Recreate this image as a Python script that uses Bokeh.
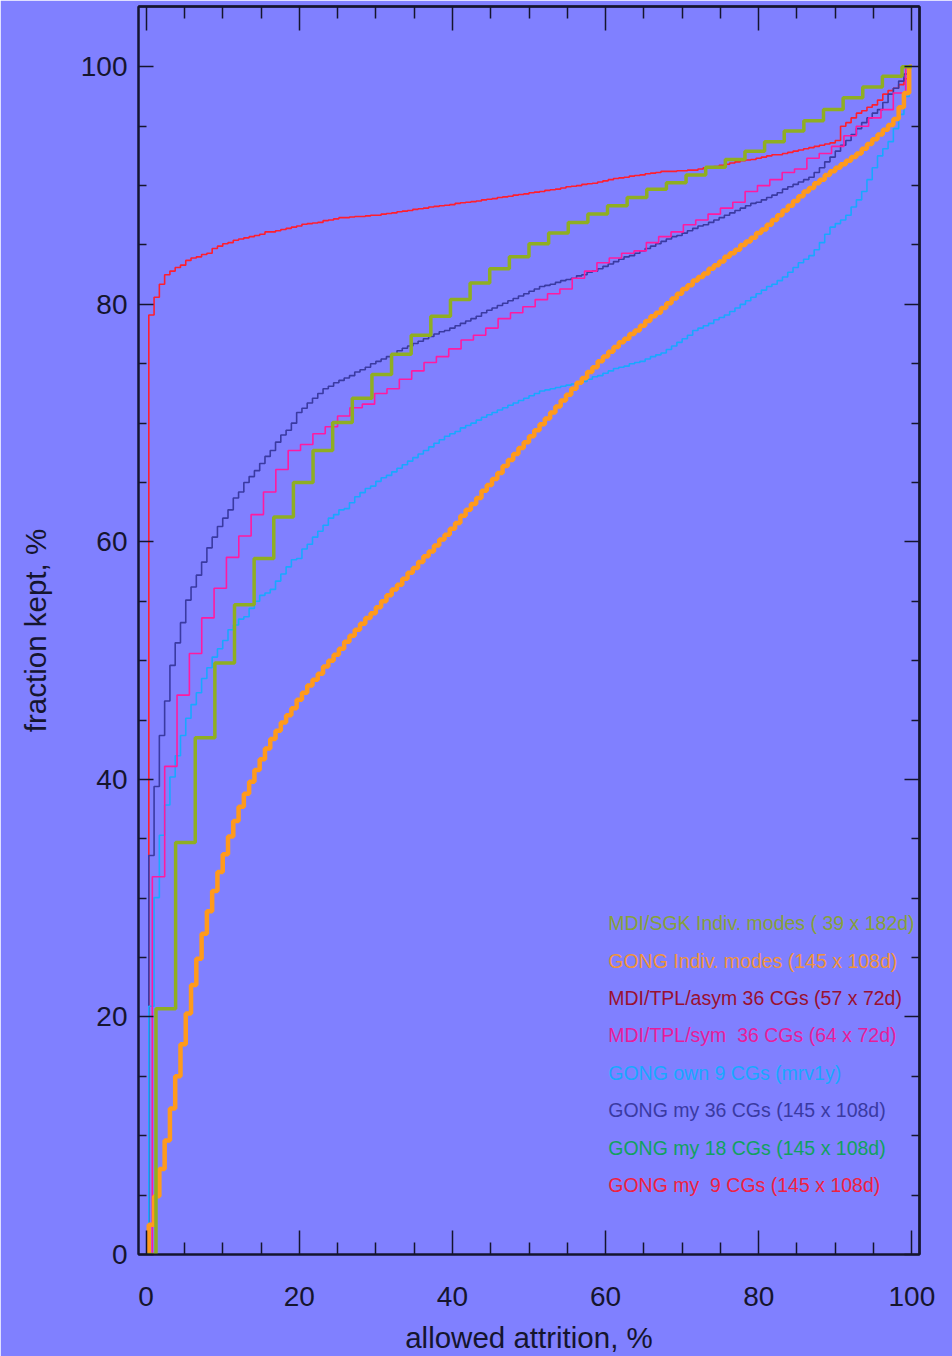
import numpy as np
from bokeh.plotting import figure
from bokeh.models import LinearAxis, FixedTicker, ColumnDataSource, Range1d
from bokeh.core.properties import value
from bokeh.embed import file_html
from bokeh.resources import INLINE

# ---------------- data ----------------
# number of steps for each cumulative curve
n_my9 = 145
n_my36 = 145
n_own9 = 145
n_sym = 62
n_indiv = 145
n_sgk = 39

gong_my9 = [0, 79.1, 80.6, 81.7, 82.5, 82.8, 83.1, 83.3, 83.7, 83.9, 84.0, 84.2, 84.3, 84.7, 84.9, 85.1,
            85.2, 85.4, 85.5, 85.6, 85.7, 85.8, 85.9, 86.1, 86.1, 86.2, 86.3, 86.4, 86.5, 86.6, 86.75,
            86.8, 86.85, 86.9, 87.05, 87.1, 87.2, 87.3, 87.3, 87.35, 87.4, 87.4, 87.45, 87.5, 87.5,
            87.6, 87.65, 87.7, 87.8, 87.85, 87.9, 88.0, 88.05, 88.1, 88.2,
            88.25, 88.3, 88.35, 88.4, 88.5, 88.55, 88.6,
            88.65, 88.7, 88.8, 88.85, 88.9, 89.0, 89.05, 89.1, 89.2, 89.25, 89.3, 89.4,
            89.45, 89.5, 89.6, 89.65, 89.7, 89.8, 89.9,
            89.95, 90.0, 90.1, 90.15, 90.2, 90.3, 90.4,
            90.5, 90.6, 90.65, 90.7, 90.8,
            90.85, 90.9, 91.0, 91.05, 91.1, 91.2,
            91.2, 91.2, 91.25, 91.25, 91.3, 91.3,
            91.4, 91.5, 91.55, 91.6, 91.7, 91.8, 91.9,
            92.0, 92.1, 92.15, 92.2, 92.3, 92.4,
            92.5, 92.6, 92.6, 92.7, 92.8, 92.9,
            93.0, 93.1, 93.2, 93.3, 93.4, 93.5, 93.6, 93.8, 95.0, 95.3, 95.7, 96.1, 96.3, 96.6,
            96.8, 97.2, 97.7, 98.0, 98.2, 98.5, 99.0, 100.0]

gong_my36 = [0, 33.6, 39.4, 43.7, 46.6, 49.6, 51.5, 53.2, 55.1, 56.2, 57.2, 58.3, 59.5, 60.4, 61.3, 62.0,
             62.7, 63.7, 64.2, 65.0, 65.5, 66.0, 66.6, 67.2, 67.7, 68.4, 69.0, 69.4, 70.0, 70.9, 71.25,
             71.7, 72.1, 72.5, 72.9, 73.1, 73.4, 73.6,
             73.8, 74.0, 74.3, 74.5, 74.7, 75.0, 75.2,
             75.4, 75.6, 75.8, 76.1, 76.3, 76.5,
             76.7, 76.9, 77.1, 77.3, 77.5,
             77.7, 77.8, 78.0, 78.2,
             78.4, 78.6, 78.8, 79.0,
             79.3, 79.5, 79.7, 79.9, 80.1, 80.3,
             80.5, 80.7, 80.9, 81.1, 81.3, 81.5,
             81.6, 81.7, 81.85, 82.0, 82.1, 82.2, 82.4, 82.5, 82.7, 82.8,
             83.0, 83.2, 83.4, 83.6, 83.8, 84.0, 84.1, 84.3,
             84.5, 84.7, 84.9, 85.1, 85.3,
             85.5, 85.7, 85.8, 86.0, 86.2, 86.4,
             86.6, 86.7, 86.9, 87.1, 87.3, 87.5,
             87.7, 87.9, 88.1, 88.3, 88.5, 88.6, 88.8,
             89.0, 89.2, 89.4, 89.7, 89.9, 90.1, 90.3, 90.5,
             90.7, 91.1, 91.5, 92.0,
             92.4, 92.9, 93.4, 93.8,
             94.3, 94.8, 95.3,
             95.7, 96.1, 96.4,
             97.0, 97.7, 98.2, 98.8, 99.4, 100.0]

gong_own9 = [0, 20.9, 30.05, 35.3, 37.85, 40.2, 42.0, 43.7, 45.15, 46.3, 47.3, 48.5, 49.4, 50.3, 51.0,
             51.7, 52.6, 53.0, 53.5, 53.7, 54.4, 55.0, 55.5, 55.7, 56.0, 56.7, 57.3, 57.9, 58.5, 58.6,
             59.4, 59.8, 60.4, 60.9, 61.4, 62.0, 62.3, 62.7, 62.8, 63.3, 63.8, 64.15, 64.5, 64.7, 65.1,
             65.4, 65.6,
             65.9, 66.2, 66.5, 66.8,
             67.1, 67.4, 67.7, 68.0, 68.3, 68.6, 68.9,
             69.1, 69.3, 69.6, 69.8, 70.0, 70.25,
             70.5, 70.7, 70.9, 71.1, 71.3, 71.5,
             71.7, 71.9, 72.1, 72.3, 72.5, 72.7,
             72.8, 72.9, 73.0, 73.1, 73.2, 73.3, 73.4,
             73.5, 73.7, 73.9, 74.0, 74.2, 74.4,
             74.6, 74.7, 74.8, 75.0, 75.1,
             75.2, 75.4, 75.6, 75.75, 75.9,
             76.2, 76.5, 76.8, 77.1, 77.4, 77.8,
             78.0, 78.2, 78.4, 78.7, 78.9, 79.1,
             79.4, 79.7, 80.0, 80.3, 80.6, 80.9, 81.2,
             81.5, 81.7, 82.0, 82.3, 82.7, 83.1, 83.5, 83.8, 84.1, 84.6, 85.2, 85.9, 86.5, 86.8,
             87.1, 87.5, 88.2, 88.8, 89.5, 90.5, 91.5, 92.5, 93.1, 93.7, 94.8, 96.0, 97.5, 100.0]

mdi_sym = [0, 31.8, 41.1, 47.1, 50.6, 53.6, 56.1, 58.7, 60.5, 62.3, 64.2, 66.1, 67.7, 68.2, 69.1, 69.7,
           70.6, 71.3, 71.6, 72.5,
           72.9, 73.7, 74.4, 75.1, 75.6, 76.25, 77.0, 77.4, 78.0, 78.8, 79.3, 79.8, 80.4, 80.9, 81.3,
           82.2, 82.8, 83.5, 83.9, 84.3, 84.5,
           85.2, 85.7, 86.1, 86.7, 87.1, 87.6, 88.1, 88.6, 89.5, 90.0, 90.5, 91.1, 91.4, 92.3, 92.7,
           93.3, 94.2, 95.0, 95.7, 96.4, 97.8, 100.0]

gong_indiv = [0, 2.5, 4.9, 7.2, 9.6, 12.3, 15.0, 17.7, 20.3, 22.7, 24.9, 27.0, 28.9, 30.6, 32.2, 33.7,
              35.2, 36.5, 37.7, 38.8, 39.8, 40.8,
              41.7, 42.6, 43.4, 44.1, 44.8, 45.4, 46.0, 46.7, 47.3, 47.9, 48.4, 48.9, 49.5, 50.0, 50.5,
              51.0, 51.6,
              52.1, 52.6, 53.1, 53.6, 54.0, 54.5,
              55.0, 55.5, 56.0, 56.4, 56.9, 57.4, 57.8, 58.3, 58.8, 59.2, 59.7, 60.2, 60.6, 61.1,
              61.6, 62.2, 62.7, 63.2, 63.7, 64.3, 64.8, 65.3, 65.8, 66.4, 66.9,
              67.4, 67.9, 68.4, 68.9, 69.4, 69.9, 70.4, 70.9, 71.4, 71.9, 72.4, 72.9,
              73.4, 73.8, 74.3, 74.7, 75.2, 75.6,
              76.0, 76.4, 76.8, 77.1, 77.5, 77.8, 78.2, 78.6, 79.0, 79.3, 79.7, 80.1, 80.5, 80.9,
              81.3, 81.6, 82.0,
              82.3, 82.6, 83.0, 83.3, 83.6, 84.0, 84.3, 84.6, 85.0, 85.3, 85.6, 86.0, 86.3,
              86.7, 87.1, 87.5, 87.9, 88.3, 88.7,
              89.1, 89.5, 89.8, 90.2, 90.5, 90.9, 91.2,
              91.5, 91.8, 92.1, 92.4, 92.7, 93.1, 93.5, 93.9, 94.3, 94.7, 95.1, 95.6, 96.6, 97.8,
              100.0]

mdi_sgk = [0, 20.7, 34.7, 43.5, 49.8, 54.7, 58.6, 62.1, 65.0, 67.7, 70.05, 72.1, 74.1, 75.8, 77.4,
           79.0, 80.4, 81.8, 83.0, 84.0, 85.1, 86.0, 86.9, 87.6, 88.3, 89.0, 89.7, 90.25, 90.9,
           91.55, 92.2, 92.9, 93.7, 94.6, 95.45, 96.4, 97.4, 98.3, 99.2, 100.0]

NBSP = "\u00a0"
legend_labels = ["MDI/SGK Indiv. modes (" + NBSP + "39 x 182d)",
                 "GONG Indiv. modes (145 x 108d)",
                 "MDI/TPL/asym 36 CGs (57 x 72d)",
                 "MDI/TPL/sym " + NBSP + "36 CGs (64 x 72d)",
                 "GONG own 9 CGs (mrv1y)",
                 "GONG my 36 CGs (145 x 108d)",
                 "GONG my 18 CGs (145 x 108d)",
                 "GONG my " + NBSP + "9 CGs (145 x 108d)"]

x_ticks = [0, 20, 40, 60, 80, 100]
y_ticks = [0, 20, 40, 60, 80, 100]
minor_ticks = [5, 10, 15, 25, 30, 35, 45, 50, 55, 65, 70, 75, 85, 90, 95]

# ---------------- styling ----------------
BG = "#8080ff"
INK = "#15152e"
FONT = "Liberation Sans"

C_SGK = "#8fae22"
C_INDIV = "#ff9a1c"
C_ASYM = "#9a1030"
C_SYM = "#ff1aa0"
C_OWN9 = "#18a8ff"
C_MY36 = "#3a3aa2"
C_MY18 = "#12a060"
C_MY9 = "#ff1e2e"

legend_colors = ["#86a03a", "#f0943a", C_ASYM, "#e81c9a", C_OWN9, C_MY36, C_MY18, "#f02040"]

p = figure(width=952, height=1356, output_backend="svg", toolbar_location=None,
           x_range=Range1d(-1, 101), y_range=Range1d(0, 105.08),
           min_border_left=138, min_border_right=33, min_border_top=6, min_border_bottom=102,
           background_fill_color=BG, border_fill_color=BG,
           outline_line_color=INK, outline_line_width=2)
p.grid.visible = False


def style_axis(ax, major, minor, major_in, minor_in):
    ax.ticker = FixedTicker(ticks=major, minor_ticks=minor)
    ax.axis_line_color = INK
    ax.axis_line_width = 2
    ax.major_tick_line_color = INK
    ax.minor_tick_line_color = INK
    ax.major_tick_line_width = 1.5
    ax.minor_tick_line_width = 1.5
    ax.major_tick_in = major_in
    ax.major_tick_out = 0
    ax.minor_tick_in = minor_in
    ax.minor_tick_out = 0
    ax.major_label_text_font = FONT
    ax.major_label_text_color = INK
    ax.major_label_text_font_size = "28px"
    ax.axis_label_text_font = FONT
    ax.axis_label_text_color = INK
    ax.axis_label_text_font_style = "normal"
    ax.axis_label_text_font_size = "29.5px"


xb = p.xaxis[0]
style_axis(xb, x_ticks, minor_ticks, 24, 12)
xb.axis_label = "allowed attrition, %"
xb.major_label_standoff = 32
xb.axis_label_standoff = 12

yl = p.yaxis[0]
style_axis(yl, y_ticks, minor_ticks, 15, 8)
yl.axis_label = "fraction kept, %"
yl.major_label_standoff = 11
yl.axis_label_standoff = 26

# top / right: tick marks only (no labels) -> ticks given as minor ticks
for side, major_len, minor_len, ticks in (("above", 24, 12, x_ticks), ("right", 15, 8, y_ticks)):
    a1 = LinearAxis()
    style_axis(a1, [], minor_ticks, 0, minor_len)
    a1.major_label_standoff = 0
    p.add_layout(a1, side)
    a2 = LinearAxis()
    style_axis(a2, [], ticks, 0, major_len)
    a2.major_label_standoff = 0
    p.add_layout(a2, side)

# ---------------- curves ----------------
def stepx(n):
    return np.linspace(0, 100, n + 1)

p.step(stepx(n_my9), gong_my9, mode="center", line_color=C_MY9, line_width=1.6)
p.step(stepx(n_my36), gong_my36, mode="center", line_color=C_MY36, line_width=1.6)
p.step(stepx(n_own9), gong_own9, mode="center", line_color=C_OWN9, line_width=1.6)
p.step(stepx(n_sym), mdi_sym, mode="center", line_color=C_SYM, line_width=1.6)
p.step(stepx(n_indiv), gong_indiv, mode="center", line_color=C_INDIV, line_width=4.5)
p.step(stepx(n_sgk), mdi_sgk, mode="center", line_color=C_SGK, line_width=3.5)

# ---------------- legend (coloured text) ----------------
leg_src = ColumnDataSource(dict(
    x=[60.35] * len(legend_labels),
    y=[27.9, 24.75, 21.6, 18.45, 15.3, 12.2, 9.0, 5.85],
    text=legend_labels,
    color=legend_colors))
p.text(x="x", y="y", text="text", text_color="color", source=leg_src,
       text_font=value(FONT), text_font_size="19.5px", text_align="left", text_baseline="middle")

open("out.html", "w").write(file_html(p, INLINE))
